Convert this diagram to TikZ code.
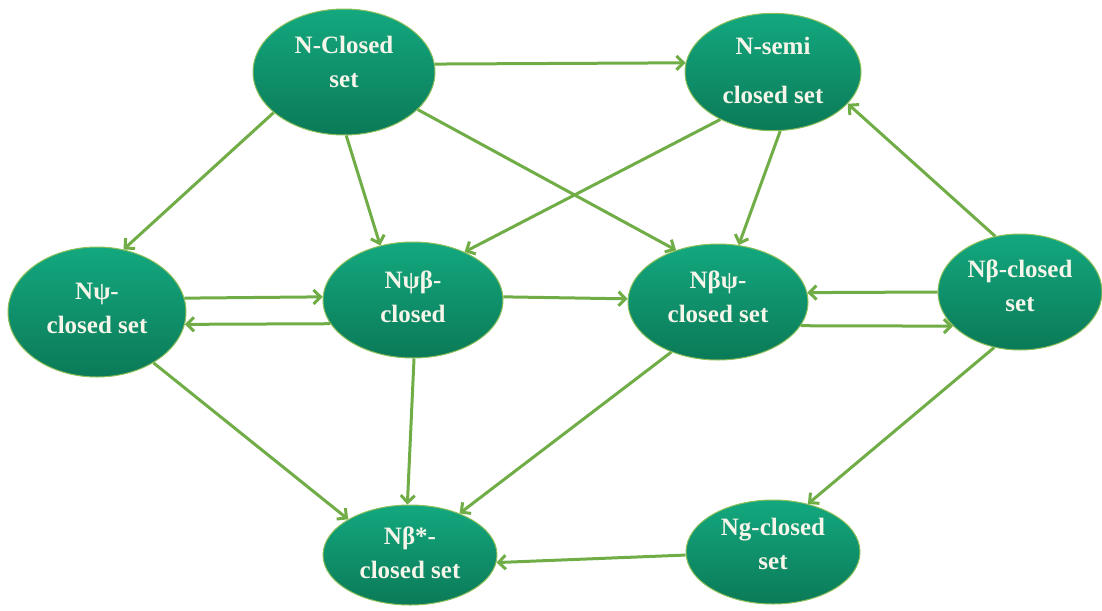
\documentclass[tikz,border=0pt]{standalone}
\usepackage{fontspec}
\setmainfont{Liberation Serif}
\usetikzlibrary{arrows.meta,shapes.geometric}
\definecolor{arr}{HTML}{70AD47}
\definecolor{ntop}{HTML}{13A87F}
\definecolor{nbot}{HTML}{0B7A57}
\definecolor{nedge}{HTML}{8DBF5A}
\definecolor{ntext}{HTML}{F5F5EA}
\newcommand\liftup[2]{\raisebox{#1}[\height][\depth]{\begin{tabular}{@{}c@{}}#2\end{tabular}}}
\begin{document}
\begin{tikzpicture}[x=1pt,y=-1pt,
  nd/.style={ellipse, top color=ntop, bottom color=nbot, draw=nedge, line width=1pt,
    text=ntext, font=\fontsize{25}{34}\selectfont\bfseries, align=center, inner sep=0pt},
  ar/.style={draw=arr, line width=3pt, -{Straight Barb[length=7pt,width=14pt]}}]
\useasboundingbox (0,0) rectangle (1102,610);

\node[nd, minimum width=182pt, minimum height=126pt] (nc)  at (344,72)  {\liftup{8pt}{N-Closed\\set}};
\node[nd, minimum width=176pt, minimum height=110pt] (ns)  at (773,72)  {\liftup{0pt}{N-semi\\[15pt]closed set}};
\node[nd, minimum width=178pt, minimum height=130pt] (nps) at (97,312)  {\liftup{2pt}{Nψ-\\closed set}};
\node[nd, minimum width=180pt, minimum height=116pt] (npb) at (413,300) {\liftup{1pt}{Nψβ-\\closed}};
\node[nd, minimum width=180pt, minimum height=116pt] (nbp) at (718,302) {\liftup{3pt}{Nβψ-\\closed set}};
\node[nd, minimum width=164pt, minimum height=116pt] (nb)  at (1020,292) {\liftup{4pt}{Nβ-closed\\set}};
\node[nd, minimum width=174pt, minimum height=100pt] (nbs) at (410,555) {\liftup{0pt}{Nβ*-\\closed set}};
\node[nd, minimum width=174pt, minimum height=104pt] (ng)  at (773,552) {\liftup{6pt}{Ng-closed\\set}};

\draw[ar] (nc.5) -- (ns.174);
\draw[ar] (nc.210) -- (nps.67);
\draw[ar] (nc.-88) -- (npb.121);
\draw[ar] (nc.-27) -- (nbp.129);
\draw[ar] (ns.222) -- (npb.43);
\draw[ar] (ns.-83) -- (nbp.70);
\draw[ar] (nb.114) -- (ns.-23);
\draw[ar] (nps.9) -- (npb.178);
\draw[ar] (npb.196) -- (nps.-8);
\draw[ar] (npb.2) -- (nbp.178);
\draw[ar] (nb.180) -- (nbp.6);
\draw[ar] (nbp.-16) -- (nb.207);
\draw[ar] (nps.-42) -- (nbs.150);
\draw[ar] (npb.-89) -- (nbs.93);
\draw[ar] (nbp.227) -- (nbs.40);
\draw[ar] (nb.245) -- (ng.54);
\draw[ar] (ng.182) -- (nbs.-5);
\end{tikzpicture}
\end{document}
